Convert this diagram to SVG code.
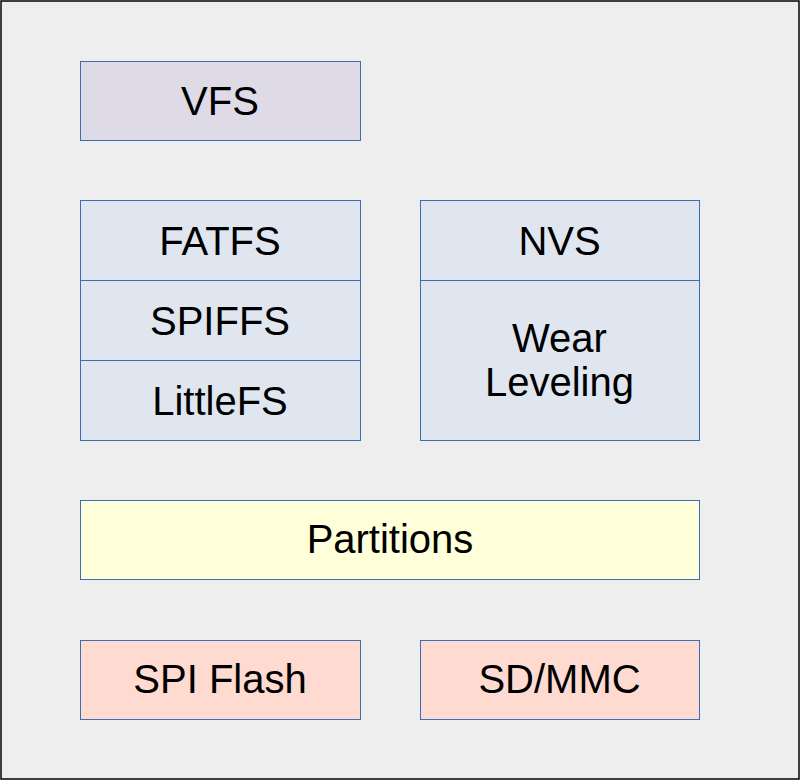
<svg xmlns="http://www.w3.org/2000/svg" width="800" height="780" viewBox="0 0 800 780">
<style>
rect.n{stroke:#3c6cb2;stroke-width:1}
.v{fill:#dedbe7}
.b{fill:#dfe6ef}
.y{fill:#ffffd9}
.p{fill:#ffdad0}
text{font-family:"Liberation Sans",Arial,sans-serif;font-size:40px;fill:#000;text-anchor:middle}
</style>
<rect x="1" y="1" width="798" height="778" fill="#eeeeee" stroke="#000" stroke-width="1.5"/>
<g id="vfs"><rect class="n v" x="80.5" y="61.5" width="280" height="79"/><text x="220" y="114.5">VFS</text></g>
<g id="fatfs"><rect class="n b" x="80.5" y="200.5" width="280" height="80"/><text x="220" y="254.5">FATFS</text></g>
<g id="spiffs"><rect class="n b" x="80.5" y="280.5" width="280" height="80"/><text x="220" y="334.5">SPIFFS</text></g>
<g id="littlefs"><rect class="n b" x="80.5" y="360.5" width="280" height="80"/><text x="220" y="414.5">LittleFS</text></g>
<g id="nvs"><rect class="n b" x="420.5" y="200.5" width="279" height="80"/><text x="559.5" y="254.5">NVS</text></g>
<g id="wear"><rect class="n b" x="420.5" y="280.5" width="279" height="160"/><text x="559.5" y="351.5">Wear</text><text x="559.5" y="395.5">Leveling</text></g>
<g id="partitions"><rect class="n y" x="80.5" y="500.5" width="619" height="79"/><text x="390" y="553">Partitions</text></g>
<g id="spiflash"><rect class="n p" x="80.5" y="640.5" width="280" height="79"/><text x="220" y="693">SPI Flash</text></g>
<g id="sdmmc"><rect class="n p" x="420.5" y="640.5" width="279" height="79"/><text x="559.5" y="693">SD/MMC</text></g>
<g id="connectors"></g>
</svg>
